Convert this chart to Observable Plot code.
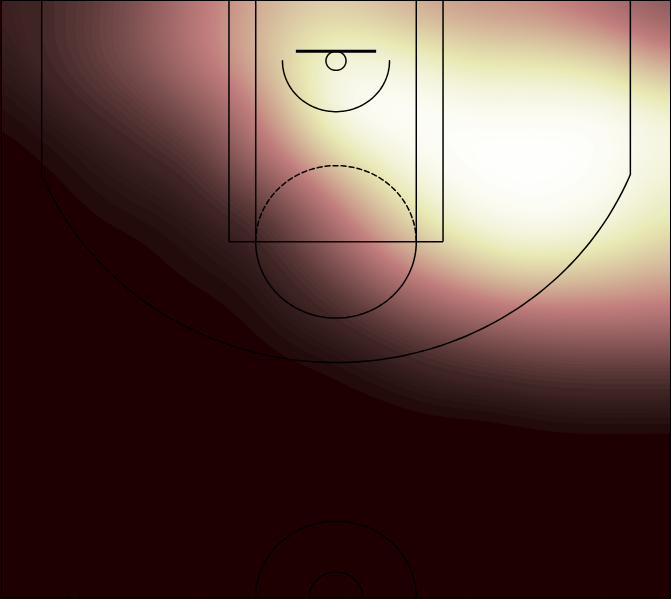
<!DOCTYPE html>
<html>
<head>
<meta charset="utf-8">
<script src="https://cdn.jsdelivr.net/npm/d3@7"></script>
<script src="https://cdn.jsdelivr.net/npm/@observablehq/plot@0.6"></script>
<style>
  html, body { margin: 0; padding: 0; overflow: hidden; background: #fff; }
</style>
</head>
<body>
<div id="chart"></div>
<script>
// Grid of shot-density levels (0..1), in court feet
const gridX = [-25, -20, -15, -10, -5, 0, 5, 10, 15, 20, 25];
const gridY = [0, 3, 6, 9, 12, 15, 18, 21, 24, 27, 30, 33, 38, 47];
const row0  = [0.022, 0.05, 0.13, 0.33, 0.50, 0.56, 0.42, 0.36, 0.32, 0.22, 0.12];
const row3  = [0.014, 0.065, 0.17, 0.38, 0.62, 0.82, 0.74, 0.62, 0.58, 0.45, 0.26];
const row6  = [0.002, 0.04, 0.12, 0.30, 0.52, 0.97, 0.94, 0.82, 0.84, 0.80, 0.50];
const row9  = [0, 0.01, 0.05, 0.16, 0.40, 1.0, 1.0, 1.0, 1.0, 1.0, 0.90];
const row12 = [0, 0.004, 0.02, 0.05, 0.33, 0.70, 0.95, 1.0, 1.0, 1.0, 0.88];
const row15 = [0, 0, 0.01, 0.018, 0.09, 0.40, 0.80, 1.0, 1.0, 0.98, 0.80];
const row18 = [0, 0, 0.001, 0.009, 0.03, 0.28, 0.60, 0.90, 1.0, 0.92, 0.70];
const row21 = [0, 0, 0, 0.004, 0.012, 0.12, 0.40, 0.57, 0.72, 0.62, 0.50];
const row24 = [0, 0, 0, 0, 0.005, 0.035, 0.16, 0.30, 0.36, 0.38, 0.36];
const row27 = [0, 0, 0, 0, 0, 0.004, 0.025, 0.09, 0.15, 0.16, 0.16];
const row30 = [0, 0, 0, 0, 0, 0, 0.002, 0.006, 0.018, 0.024, 0.022];
const row33 = [0, 0, 0, 0, 0, 0, 0, 0, 0, 0, 0];
const row38 = [0, 0, 0, 0, 0, 0, 0, 0, 0, 0, 0];
const row47 = [0, 0, 0, 0, 0, 0, 0, 0, 0, 0, 0];
const densityRows = [row0, row3, row6, row9, row12, row15, row18, row21, row24, row27, row30, row33, row38, row47];

const xTicks = [-20, -10, 0, 10, 20];

// Court geometry (feet)
const courtLines = [
  {x1: -8, y1: 0, x2: -8, y2: 19},
  {x1: 8, y1: 0, x2: 8, y2: 19},
  {x1: -8, y1: 19, x2: 8, y2: 19},
  {x1: -6, y1: 0, x2: -6, y2: 19},
  {x1: 6, y1: 0, x2: 6, y2: 19},
  {x1: -22, y1: 0, x2: -22, y2: 13.7},
  {x1: 22, y1: 0, x2: 22, y2: 13.7}
];
const backboard = [{x1: -3, y1: 4, x2: 3, y2: 4}];
const courtArcs = [
  {id: "hoop", cx: 0, cy: 4.75, r: 0.75, a0: 0, a1: 2 * Math.PI, dashed: false},
  {id: "restricted", cx: 0, cy: 4.75, r: 4, a0: 0, a1: Math.PI, dashed: false},
  {id: "three", cx: 0, cy: 4.75, r: 23.75, a0: Math.acos(22 / 23.75), a1: Math.PI - Math.acos(22 / 23.75), dashed: false},
  {id: "ftLower", cx: 0, cy: 19, r: 6, a0: 0, a1: Math.PI, dashed: false},
  {id: "ftUpper", cx: 0, cy: 19, r: 6, a0: Math.PI, a1: 2 * Math.PI, dashed: true},
  {id: "centerOuter", cx: 0, cy: 47, r: 6, a0: Math.PI, a1: 2 * Math.PI, dashed: false},
  {id: "centerInner", cx: 0, cy: 47, r: 2, a0: Math.PI, a1: 2 * Math.PI, dashed: false}
];

function arcPoints(arcs) {
  return arcs.flatMap(a => {
    const n = 120;
    return d3.range(n + 1).map(i => {
      const t = a.a0 + (a.a1 - a.a0) * i / n;
      return {id: a.id, x: a.cx + a.r * Math.cos(t), y: a.cy + a.r * Math.sin(t)};
    });
  });
}

// "pink" colormap: sqrt((2*gray + hot)/3)
function pink(t) {
  t = Math.max(0, Math.min(1, t));
  const n = t * 63 + 1;
  const hr = Math.min(1, n / 24);
  const hg = Math.max(0, Math.min(1, (n - 24) / 24));
  const hb = Math.max(0, Math.min(1, (n - 48) / 16));
  const r = Math.sqrt((2 * t + hr) / 3);
  const g = Math.sqrt((2 * t + hg) / 3);
  const b = Math.sqrt((2 * t + hb) / 3);
  return `rgb(${Math.round(r * 255)},${Math.round(g * 255)},${Math.round(b * 255)})`;
}

const samples = gridY.flatMap((y, i) => gridX.map((x, j) => ({x, y, v: densityRows[i][j]})));
const levels = d3.range(0.003, 0.03, 0.003).concat(d3.range(0.03, 1.0, 0.01));

const chart = Plot.plot({
  width: 671,
  height: 627,
  marginTop: 0,
  marginLeft: 1,
  marginRight: 1,
  marginBottom: 30,
  style: {background: pink(0), color: "black"},
  x: {domain: [-25, 25], ticks: xTicks, tickFormat: () => "", label: null},
  y: {domain: [0, 47], reverse: true, axis: null},
  color: {type: "linear", domain: [0, 1], interpolate: pink},
  marks: [
    Plot.contour(samples, {
      x: "x", y: "y", fill: "v",
      interpolate: "barycentric",
      blur: 12,
      thresholds: levels
    }),
    Plot.link(courtLines, {x1: "x1", y1: "y1", x2: "x2", y2: "y2", stroke: "black", strokeWidth: 1.5}),
    Plot.link(backboard, {x1: "x1", y1: "y1", x2: "x2", y2: "y2", stroke: "black", strokeWidth: 3}),
    Plot.line(arcPoints(courtArcs.filter(a => !a.dashed)), {x: "x", y: "y", z: "id", stroke: "black", strokeWidth: 1.5}),
    Plot.line(arcPoints(courtArcs.filter(a => a.dashed)), {x: "x", y: "y", z: "id", stroke: "black", strokeWidth: 1.5, strokeDasharray: "5,3"}),
    Plot.frame({stroke: "black"})
  ]
});
document.getElementById("chart").append(chart);
</script>
</body>
</html>
